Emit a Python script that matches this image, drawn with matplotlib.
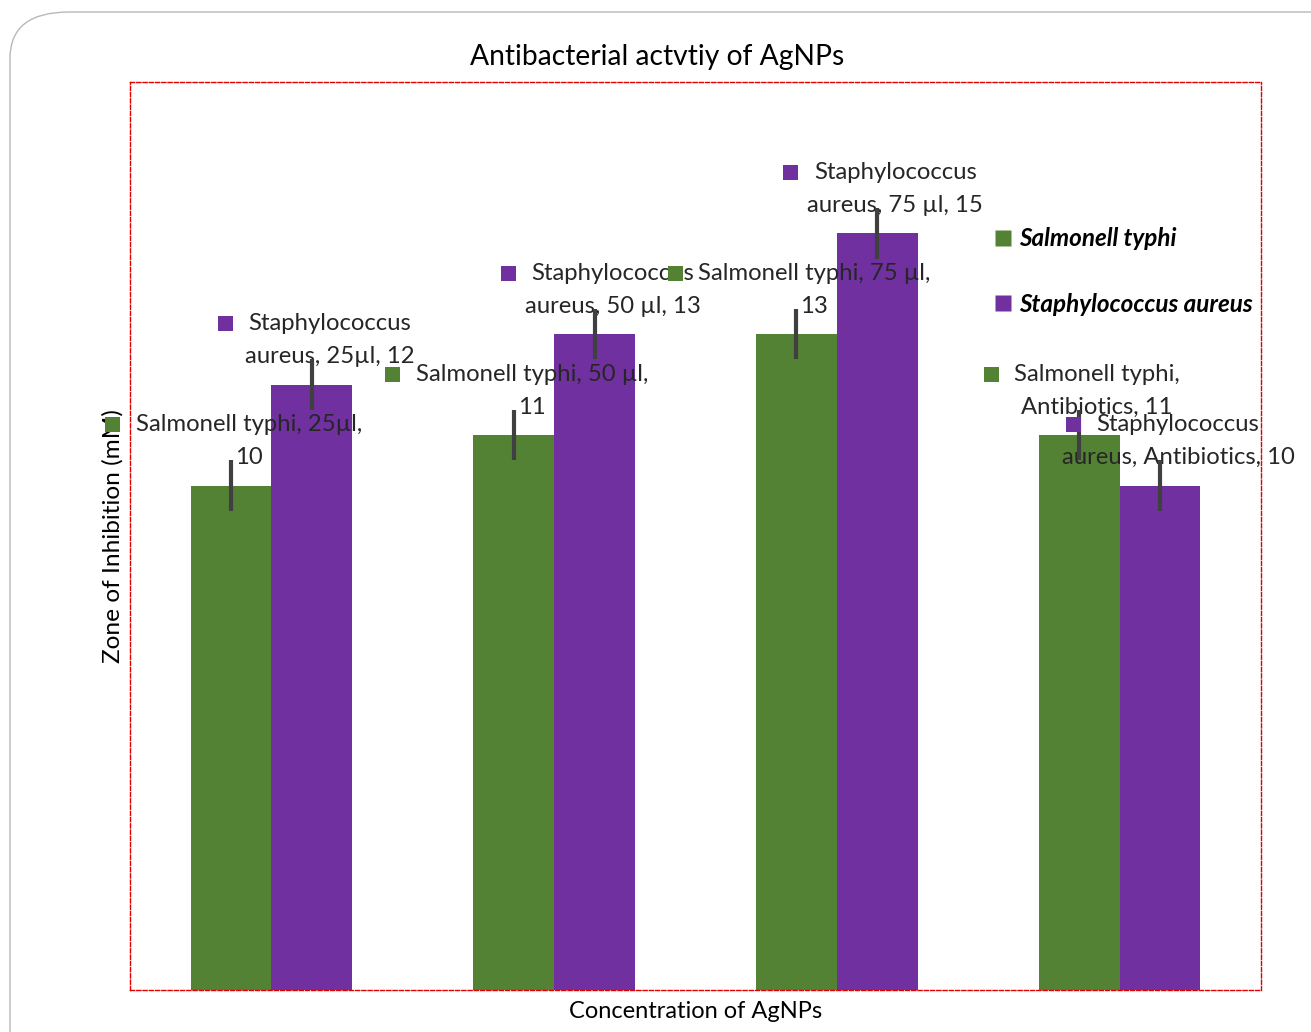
import matplotlib
matplotlib.use("Agg")
import matplotlib.pyplot as plt
import numpy as np
from matplotlib.patches import FancyBboxPatch, Rectangle
from matplotlib.lines import Line2D

# datos del grafico
grupos = ["25µl", "50 µl", "75 µl", "Antibiotics"]
series = ["Salmonell typhi", "Staphylococcus aureus"]
salmonella = [10, 11, 13, 11]
staphylo = [12, 13, 15, 10]
error = [0.5, 0.5, 0.5, 0.5]
etiquetas_sal = ["Salmonell typhi, 25µl,\n10", "Salmonell typhi, 50 µl,\n11",
                 "Salmonell typhi, 75 µl,\n13", "Salmonell typhi,\nAntibiotics, 11"]
etiquetas_sta = ["Staphylococcus\naureus, 25µl, 12", "Staphylococcus\naureus, 50 µl, 13",
                 "Staphylococcus\naureus, 75 µl, 15", "Staphylococcus\naureus, Antibiotics, 10"]

verde = "#548235"
morado = "#7030A0"
fuente = "Lato"

fig = plt.figure(figsize=(13.11, 10.32), dpi=100)
fig.patch.set_facecolor("white")

# borde redondeado de la figura
borde = FancyBboxPatch((10 / 1311, -0.2), 1.2, 1 - 12 / 1032 + 0.2,
                       boxstyle="round,pad=0,rounding_size=0.045",
                       transform=fig.transFigure, facecolor="none",
                       edgecolor="#b8b8b8", linewidth=1.0)
fig.patches.append(borde)

ax = fig.add_axes([130 / 1311, 42 / 1032, 1131 / 1311, 908 / 1032])
x = np.arange(len(grupos))
ancho = 0.286

ax.bar(x - ancho / 2, salmonella, ancho, color=verde, zorder=2)
ax.bar(x + ancho / 2, staphylo, ancho, color=morado, zorder=2)
ax.errorbar(x - ancho / 2, salmonella, yerr=error, fmt="none", ecolor="#404040",
            elinewidth=3, capsize=0, zorder=6)
ax.errorbar(x + ancho / 2, staphylo, yerr=error, fmt="none", ecolor="#404040",
            elinewidth=3, capsize=0, zorder=6)

ax.set_xlim(-0.5, 3.5)
ax.set_ylim(0, 18)
ax.set_xticks([])
ax.set_yticks([])
for s in ax.spines.values():
    s.set_color("#e00000")
    s.set_linestyle((0, (3, 1.5)))
    s.set_linewidth(1.0)

fig.canvas.draw()
renderer = fig.canvas.get_renderer()

# etiquetas de datos con su cuadrito de leyenda
def etiqueta(xc, val, texto, color):
    l1, l2 = texto.split("\n")
    t1 = ax.annotate(l1, (xc, val), xytext=(18, 61), textcoords="offset pixels",
                     ha="center", va="center", fontsize=17.2, family=fuente,
                     color="#262626", zorder=4)
    ax.annotate(l2, (xc, val), xytext=(18, 28), textcoords="offset pixels",
                ha="center", va="center", fontsize=17.2, family=fuente,
                color="#262626", zorder=4)
    bb = t1.get_window_extent(renderer)
    cx = bb.x0 - 23
    cy = (bb.y0 + bb.y1) / 2
    fig.patches.append(Rectangle((cx - 7.5, cy - 7.5), 15, 15, transform=None,
                                 facecolor=color, edgecolor="none", zorder=4))

for i in range(len(grupos)):
    etiqueta(x[i] - ancho / 2, salmonella[i], etiquetas_sal[i], verde)
    etiqueta(x[i] + ancho / 2, staphylo[i], etiquetas_sta[i], morado)

handles = [Line2D([], [], marker="s", linestyle="none", markersize=11,
                  markerfacecolor=c, markeredgecolor="none") for c in (verde, morado)]
ley = ax.legend(handles, series, loc="upper left", bbox_to_anchor=(0.74, 0.864),
                frameon=False, labelspacing=1.75, handletextpad=0.05, handlelength=1.2,
                prop={"family": fuente, "size": 17.5, "style": "italic", "weight": "bold"})

fig.text(0.501, 1 - 57 / 1032, "Antibacterial actvtiy of AgNPs", ha="center", va="center",
         fontsize=20.3, family=fuente)
fig.text(696 / 1311, 1 - 1012 / 1032, "Concentration of AgNPs", ha="center", va="center",
         fontsize=17, family=fuente)
fig.text(113 / 1311, 1 - 536 / 1032, "Zone of Inhibition (mM)", ha="center", va="center",
         rotation=90, fontsize=17.6, family=fuente)

fig.savefig("out.png", dpi=100)
